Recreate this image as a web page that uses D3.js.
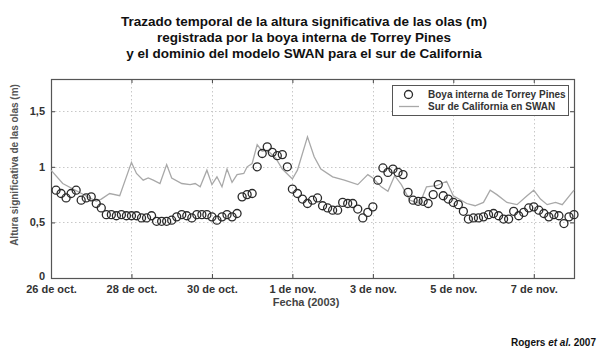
<!DOCTYPE html>
<html><head><meta charset="utf-8">
<script src="https://cdn.jsdelivr.net/npm/d3@7"></script>
<style>body{margin:0;background:#fff}svg{display:block}text{font-family:"Liberation Sans",Arial,sans-serif}</style>
</head><body><svg id="c" width="600" height="350"></svg>
<script>
// ---- data ----
const titleLines = ["Trazado temporal de la altura significativa de las olas (m)",
  "registrada por la boya interna de Torrey Pines",
  "y el dominio del modelo SWAN para el sur de California"];
const yLabel = "Altura significativa de las olas (m)";
const xLabel = "Fecha (2003)";
const legendLabels = ["Boya interna de Torrey Pines", "Sur de California en SWAN"];
const xTickDates = ["2003-10-26","2003-10-28","2003-10-30","2003-11-01","2003-11-03","2003-11-05","2003-11-07"];
const xTickLabels = ["26 de oct.","28 de oct.","30 de oct.","1 de nov.","3 de nov.","5 de nov.","7 de nov."];
const yTicks = [0, 0.5, 1, 1.5];
const yTickLabels = ["0","0,5","1","1,5"];
// buoy: one reading every 3 h starting 26 oct 03:00 (hours since 26 oct 00:00)
const buoyHours = [3,6,9,12,15,18,21,24,27,30,33,36,39,42,45,48,51,54,57,60,63,66,69,72,75,78,81,84,87,90,93,96,99,102,105,108,111,114,117,120,123,126,129,132,135,138,141,144,147,150,153,156,159,162,165,168,171,174,177,180,183,186,189,192,195,198,201,204,207,210,213,216,219,222,225,228,231,234,237,240,243,246,249,252,255,258,261,264,267,270,273,276,279,282,285,288,291,294,297,300,303,306,309,312];
const buoyHs = [0.79,0.76,0.72,0.76,0.79,0.70,0.72,0.73,0.67,0.63,
  0.57,0.57,0.56,0.57,0.56,0.56,0.56,0.54,0.54,0.56,
  0.51,0.51,0.51,0.52,0.55,0.57,0.56,0.54,0.57,0.57,
  0.57,0.55,0.52,0.55,0.57,0.55,0.58,0.73,0.75,0.76,
  1.00,1.12,1.18,1.13,1.10,1.11,1.00,0.80,0.76,0.71,
  0.67,0.70,0.72,0.65,0.63,0.61,0.61,0.68,0.67,0.67,
  0.62,0.54,0.59,0.64,0.88,0.99,0.95,0.98,0.95,0.93,
  0.77,0.70,0.69,0.69,0.67,0.75,0.84,0.74,0.71,0.68,
  0.66,0.60,0.53,0.54,0.54,0.55,0.57,0.58,0.56,0.53,
  0.53,0.60,0.56,0.59,0.63,0.64,0.61,0.58,0.55,0.57,
  0.56,0.49,0.55,0.57];
const swanHours = [0,7,27,30,35,41,48,51,55,58,61,65,69,72,78,83,86,89,93,96,99,102,105,108,111,115,117,120,123,126,129,134,138,144,147,153,157,161,168,175,183,189,192,197,201,205,209,214,220,224,230,236,240,248,253,258,262,266,272,278,284,288,292,296,301,305,312];
const swanHs = [0.97,0.85,0.69,0.71,0.76,0.74,1.04,0.94,0.88,0.90,0.88,0.85,1.02,0.90,0.85,0.84,0.85,0.82,0.97,0.84,0.91,0.82,0.98,0.86,0.93,0.94,1.00,1.03,1.20,1.14,1.15,1.08,0.98,0.89,0.97,1.27,1.09,0.98,0.91,0.88,0.84,0.93,0.90,0.82,0.78,0.92,0.84,0.70,0.67,0.82,0.83,0.87,0.74,0.67,0.65,0.68,0.79,0.75,0.68,0.66,0.74,0.79,0.71,0.66,0.68,0.66,0.79];
const credit = ["Rogers ", "et al.", " 2007"];

// ---- chart ----
const svg = d3.select("#c");
const t0 = new Date(2003, 9, 26);
const parse = s => { const [y,m,d] = s.split("-").map(Number); return new Date(y, m-1, d); };
const L = 51, R = 574, T = 79, B = 278;
const x = d3.scaleTime().domain([t0, new Date(2003, 10, 8)]).range([L, R]);
const y = d3.scaleLinear().domain([0, 1.79]).range([B, T]);
const hx = h => x(d3.timeHour.offset(t0, h));

// title
svg.append("g").selectAll("text").data(titleLines).join("text")
  .attr("x", 304).attr("y", (d,i) => 26 + i*16)
  .attr("text-anchor", "middle").attr("font-size", 13.5).attr("font-weight", "bold").attr("fill", "#111")
  .text(d => d);

// grid
const grid = svg.append("g").attr("stroke", "#c8c8c8").attr("stroke-width", 1).attr("stroke-dasharray", "1.5,2.5");
grid.selectAll(".gx").data(xTickDates.slice(1)).join("line")
  .attr("x1", d => Math.round(x(parse(d))) + 0.5).attr("x2", d => Math.round(x(parse(d))) + 0.5)
  .attr("y1", T).attr("y2", B);
grid.selectAll(".gy").data(yTicks.slice(1)).join("line")
  .attr("y1", d => Math.round(y(d)) + 0.5).attr("y2", d => Math.round(y(d)) + 0.5)
  .attr("x1", L).attr("x2", R);

// axes
const axCol = "#444";
const xAxis = svg.append("g").attr("transform", `translate(0,${B})`)
  .call(d3.axisBottom(x).tickValues(xTickDates.map(parse)).tickFormat((d,i) => xTickLabels[i]).tickSizeInner(-4).tickSizeOuter(0).tickPadding(7));
const xAxisTop = svg.append("g").attr("transform", `translate(0,${T})`)
  .call(d3.axisTop(x).tickValues(xTickDates.map(parse)).tickFormat("").tickSizeInner(-4).tickSizeOuter(0));
const yAxis = svg.append("g").attr("transform", `translate(${L},0)`)
  .call(d3.axisLeft(y).tickValues(yTicks).tickFormat((d,i) => yTickLabels[i]).tickSizeInner(-4).tickSizeOuter(0).tickPadding(6));
const yAxisR = svg.append("g").attr("transform", `translate(${R},0)`)
  .call(d3.axisRight(y).tickValues(yTicks).tickFormat("").tickSizeInner(-4).tickSizeOuter(0));
[xAxis, xAxisTop, yAxis, yAxisR].forEach(g => {
  g.select(".domain").remove();
  g.selectAll("line").attr("stroke", axCol);
  g.selectAll("text").attr("fill", "#333").attr("font-size", 11).attr("font-weight", "bold")
    .attr("font-family", '"Liberation Sans",Arial,sans-serif');
});
xAxis.selectAll("text").attr("dy", "0.71em");
yAxis.selectAll("text").filter(d => d === 0).attr("dy", "0.12em");

// frame
svg.append("rect").attr("x", L + 0.5).attr("y", T + 0.5).attr("width", R - L).attr("height", B - T)
  .attr("fill", "none").attr("stroke", "#555").attr("stroke-width", 1.2);

// SWAN line
const swanData = swanHours.map((h,i) => [h, swanHs[i]]);
svg.append("path").datum(swanData)
  .attr("fill", "none").attr("stroke", "#a8a8a8").attr("stroke-width", 1.3)
  .attr("d", d3.line().x(d => hx(d[0])).y(d => y(d[1])));

// buoy circles
const buoyData = buoyHours.map((h,i) => [h, buoyHs[i]]);
svg.append("g").selectAll("circle").data(buoyData).join("circle")
  .attr("cx", d => hx(d[0])).attr("cy", d => y(d[1])).attr("r", 4)
  .attr("fill", "none").attr("stroke", "#2a2a2a").attr("stroke-width", 1.3);

// axis labels
svg.append("text").attr("transform", `translate(18,165) rotate(-90)`)
  .attr("text-anchor", "middle").attr("font-size", 10).attr("font-weight", "bold").attr("fill", "#555")
  .text(yLabel);
svg.append("text").attr("x", 306).attr("y", 306).attr("text-anchor", "middle")
  .attr("font-size", 11).attr("font-weight", "bold").attr("fill", "#444").text(xLabel);

// legend
const lg = svg.append("g");
lg.append("rect").attr("x", 392.5).attr("y", 85.5).attr("width", 176).attr("height", 30)
  .attr("fill", "#fff").attr("stroke", "#555").attr("stroke-width", 1);
lg.append("circle").attr("cx", 408.5).attr("cy", 94.5).attr("r", 4)
  .attr("fill", "none").attr("stroke", "#2a2a2a").attr("stroke-width", 1.3);
lg.append("line").attr("x1", 399).attr("x2", 419).attr("y1", 106.5).attr("y2", 106.5)
  .attr("stroke", "#a8a8a8").attr("stroke-width", 1.3);
lg.selectAll("text").data(legendLabels).join("text")
  .attr("x", 428).attr("y", (d,i) => 98 + i*12)
  .attr("font-size", 10).attr("font-weight", "bold").attr("fill", "#333").text(d => d);

// credit
const cr = svg.append("text").attr("x", 596).attr("y", 346).attr("text-anchor", "end")
  .attr("font-size", 10).attr("font-weight", "bold").attr("fill", "#111");
cr.selectAll("tspan").data(credit).join("tspan")
  .attr("font-style", (d,i) => i === 1 ? "italic" : "normal").text(d => d);
</script></body></html>
